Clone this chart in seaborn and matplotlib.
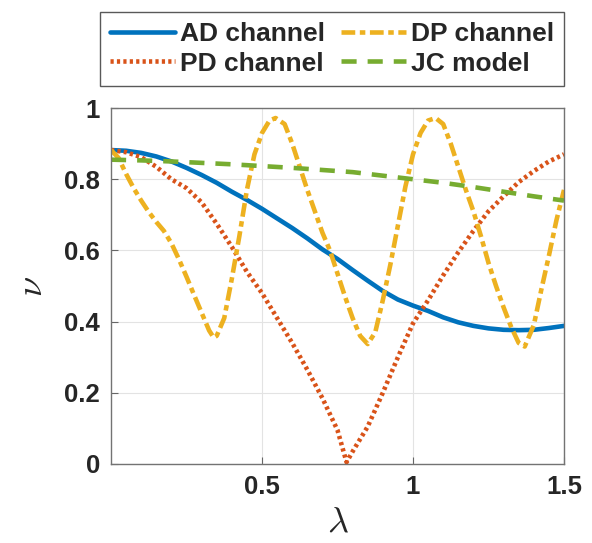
import seaborn as sns
import matplotlib.pyplot as plt

# values
ad_x = [0.0, 0.05, 0.1, 0.15, 0.2, 0.25, 0.3, 0.35, 0.4, 0.45, 0.5, 0.55, 0.6, 0.65, 0.7, 0.75,
        0.8, 0.85, 0.9, 0.95, 1.0, 1.05, 1.1, 1.15, 1.2, 1.25, 1.3, 1.35, 1.4, 1.45, 1.5]
ad_y = [0.882, 0.880, 0.874, 0.864, 0.850, 0.832, 0.812, 0.790, 0.765, 0.742, 0.717, 0.690, 0.663,
        0.634, 0.603, 0.576, 0.545, 0.515, 0.486, 0.462, 0.445, 0.430, 0.412, 0.398, 0.388, 0.381,
        0.377, 0.376, 0.377, 0.382, 0.388]

pd_x = [0.0, 0.05, 0.1, 0.15, 0.2, 0.25, 0.3, 0.35, 0.4, 0.45, 0.5, 0.55, 0.6, 0.65, 0.7, 0.75,
        0.78, 0.8, 0.85, 0.9, 0.95, 1.0, 1.05, 1.1, 1.15, 1.2, 1.25, 1.3, 1.35, 1.4, 1.45, 1.5]
pd_y = [0.882, 0.876, 0.862, 0.835, 0.800, 0.775, 0.735, 0.675, 0.610, 0.540, 0.480, 0.410, 0.340,
        0.265, 0.185, 0.095, 0.005, 0.035, 0.105, 0.200, 0.300, 0.395, 0.460, 0.530, 0.595, 0.655,
        0.710, 0.752, 0.792, 0.823, 0.850, 0.870]

dp_x = [0.0, 0.025, 0.05, 0.075, 0.1, 0.125, 0.15, 0.175, 0.2, 0.225, 0.25, 0.275, 0.3, 0.325,
        0.34, 0.35, 0.375, 0.4, 0.425, 0.45, 0.475, 0.5, 0.525, 0.545, 0.575, 0.6, 0.625, 0.65,
        0.675, 0.7, 0.725, 0.75, 0.775, 0.8, 0.825, 0.85, 0.875, 0.9, 0.925, 0.95, 0.975, 1.0,
        1.025, 1.05, 1.075, 1.1, 1.125, 1.15, 1.175, 1.2, 1.225, 1.25, 1.275, 1.3, 1.325, 1.35,
        1.37, 1.4, 1.425, 1.45, 1.475, 1.5]
dp_y = [0.882, 0.860, 0.815, 0.775, 0.740, 0.708, 0.680, 0.655, 0.620, 0.575, 0.526, 0.475, 0.425,
        0.375, 0.355, 0.360, 0.410, 0.520, 0.640, 0.770, 0.870, 0.930, 0.965, 0.972, 0.955, 0.900,
        0.835, 0.770, 0.710, 0.650, 0.600, 0.535, 0.470, 0.410, 0.360, 0.337, 0.370, 0.460, 0.560,
        0.670, 0.780, 0.870, 0.930, 0.965, 0.972, 0.955, 0.900, 0.835, 0.770, 0.710, 0.640, 0.565,
        0.500, 0.440, 0.385, 0.340, 0.330, 0.390, 0.490, 0.585, 0.685, 0.770]

jc_x = [0.0, 0.1, 0.2, 0.3, 0.4, 0.5, 0.6, 0.7, 0.8, 0.9, 1.0, 1.1, 1.2, 1.3, 1.4, 1.5]
jc_y = [0.855, 0.853, 0.850, 0.846, 0.842, 0.837, 0.832, 0.826, 0.820, 0.810, 0.800, 0.790,
        0.778, 0.765, 0.752, 0.740]

x_ticks = [0.5, 1, 1.5]
y_ticks = [0, 0.2, 0.4, 0.6, 0.8, 1]

sns.set_style("ticks")
plt.rcParams['font.family'] = ['Liberation Sans', 'DejaVu Sans']
plt.rcParams['font.weight'] = 'bold'
plt.rcParams['mathtext.fontset'] = 'cm'

fig = plt.figure(figsize=(5.92, 5.43), dpi=100)
ax = fig.add_axes([0.1875, 0.1455, 0.7652, 0.6555])

sns.lineplot(x=ad_x, y=ad_y, ax=ax, color='#0072BD', lw=3.3, label='AD channel')
sns.lineplot(x=pd_x, y=pd_y, ax=ax, color='#D95319', lw=3.3, linestyle=(0, (0.7, 0.7)), label='PD channel')
sns.lineplot(x=dp_x, y=dp_y, ax=ax, color='#EDB120', lw=3.3, linestyle=(0, (3.0, 1.0, 1.2, 1.0)), label='DP channel')
sns.lineplot(x=jc_x, y=jc_y, ax=ax, color='#77AC30', lw=3.3, linestyle=(0, (3.3, 2.4)), label='JC model')

ax.set_xlim(0, 1.5)
ax.set_ylim(0, 1)
ax.set_xticks(x_ticks)
ax.set_xticklabels(['0.5', '1', '1.5'])
ax.set_yticks(y_ticks)
ax.set_yticklabels(['0', '0.2', '0.4', '0.6', '0.8', '1'])
ax.tick_params(direction='in', labelsize=18.5, colors='0.4', labelcolor='#262626', length=5, pad=8)
ax.grid(True, color='#e3e3e3', lw=0.8)
for s in ax.spines.values():
    s.set_visible(True)
    s.set_color('0.45')
    s.set_linewidth(1)

ax.set_xlabel(r'$\lambda$', fontsize=26, labelpad=4)
ax.set_ylabel(r'$\nu$', fontsize=26, labelpad=10)

# legend sits above the axes, two columns, boxed
ax.legend(ncol=2, loc='center', bbox_to_anchor=(0.5608, 0.9098), bbox_transform=fig.transFigure,
          fontsize=19, frameon=True, fancybox=False, edgecolor='0.35', framealpha=1,
          handlelength=2.45, handletextpad=0.2, columnspacing=0.6, borderpad=0.38,
          labelspacing=0.2)
ax.get_legend().get_frame().set_linewidth(1)

fig.savefig('out.png', dpi=100)
